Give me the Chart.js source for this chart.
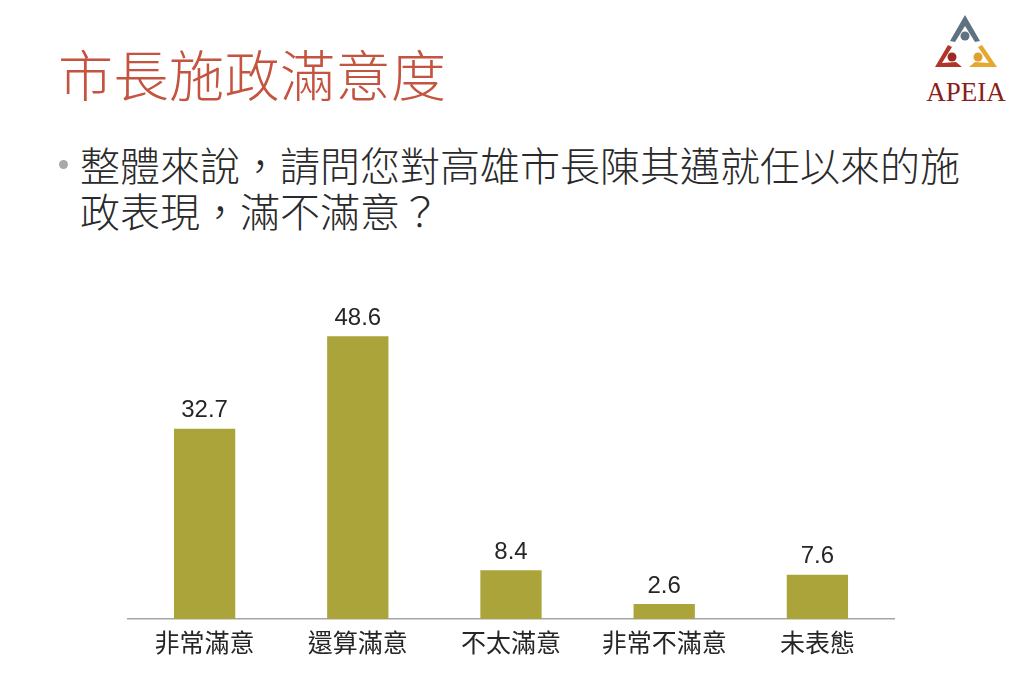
<!DOCTYPE html>
<html>
<head>
<meta charset="utf-8">
<script src="https://cdn.jsdelivr.net/npm/chart.js@4"></script>
<style>
  html,body{margin:0;padding:0;background:#fff;}
  body{width:1024px;height:698px;position:relative;overflow:hidden;
       font-family:"Noto Sans CJK TC","Noto Sans",sans-serif;}
  #title{position:absolute;left:58px;top:36px;font-size:55px;line-height:72px;
         color:#c4543f;font-weight:300;letter-spacing:0.5px;}
  #q{position:absolute;left:80px;top:141px;width:920px;font-size:40px;line-height:46px;
     color:#2a2a2a;font-weight:300;}
  #dot{position:absolute;left:59px;top:160px;width:9px;height:9px;border-radius:50%;background:#a6aba6;}
  #logo{position:absolute;left:916px;top:10px;}
  #wrap{position:absolute;left:0;top:250px;width:1024px;height:448px;}
</style>
</head>
<body>
<div id="title">市長施政滿意度</div>
<div id="dot"></div>
<div id="q">整體來說，請問您對高雄市長陳其邁就任以來的施<br>政表現，滿不滿意？</div>
<svg id="logo" width="100" height="96" viewBox="0 0 100 96">
  <polygon points="49,5 34,31 39,32 49,16 59,32 64,31" fill="#5f7282"/>
  <polygon points="32,35 19,57 46,57 40,52 26,53 36,37" fill="#b0362a"/>
  <polygon points="66,35 81,57 53,57 59,52 73,53 62,37" fill="#e6a72e"/>
  <circle cx="49" cy="26" r="4.5" fill="#5f7282"/>
  <circle cx="36" cy="47" r="4.5" fill="#9e2a22"/>
  <circle cx="62" cy="47" r="4.5" fill="#e0a030"/>
  <text x="50" y="91" text-anchor="middle" font-family="Liberation Serif, serif" font-size="27" fill="#8a1f1c">APEIA</text>
</svg>
<div id="wrap"><canvas id="chart"></canvas></div>
<script>
const $ = q => document.querySelector(q);

/* ---------- data ---------- */
const categories = ['非常滿意','還算滿意','不太滿意','非常不滿意','未表態'];
const values     = [32.7, 48.6, 8.4, 2.6, 7.6];

const barColor = '#aaa43b';
const txtColor = '#262626';

/* value labels above bars */
const valueLabels = {
  id:'valueLabels',
  afterDatasetsDraw(chart){
    const {ctx} = chart;
    const meta = chart.getDatasetMeta(0);
    ctx.save();
    ctx.font = '24px "Liberation Sans", Arial, sans-serif';
    ctx.fillStyle = txtColor;
    ctx.textAlign = 'center';
    ctx.textBaseline = 'bottom';
    meta.data.forEach((bar,i) => ctx.fillText(values[i].toFixed(1), bar.x, bar.y - 6));
    ctx.restore();
  }
};

new Chart($('#chart'),{
  type:'bar',
  data:{labels:categories,datasets:[{
    data:values,backgroundColor:barColor,borderWidth:0,
    barPercentage:0.4,categoryPercentage:1
  }]},
  options:{
    responsive:true,maintainAspectRatio:false,animation:false,
    layout:{padding:{left:128,right:130,top:20,bottom:33}},
    plugins:{legend:{display:false},tooltip:{enabled:false}},
    scales:{
      y:{display:false,min:0,max:60},
      x:{grid:{display:false,drawTicks:false},
         border:{color:'#a6a6a6',width:1.5},
         ticks:{color:txtColor,padding:8,
                font:{size:25,family:'"Noto Sans CJK TC", sans-serif'}}}
    }
  },
  plugins:[valueLabels]
});
</script>
</body>
</html>
